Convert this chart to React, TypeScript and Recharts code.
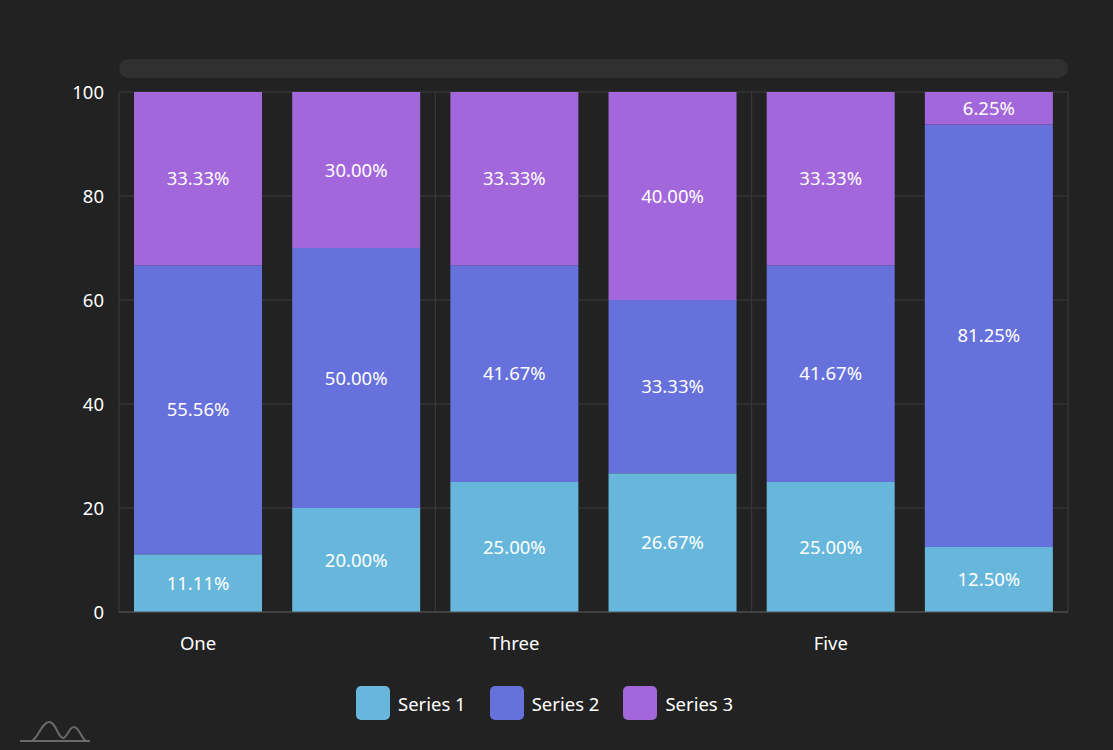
import { FC } from 'react';
import {
  BarChart,
  Bar,
  XAxis,
  YAxis,
  CartesianGrid,
  Legend,
  LabelList
} from 'recharts';

// Raw category values (each column is shown as 100%)
const categories = ['One', 'Two', 'Three', 'Four', 'Five', 'Six'];
const series1 = [1, 2, 3, 4, 3, 2];
const series2 = [5, 5, 5, 5, 5, 13];
const series3 = [3, 3, 4, 6, 4, 1];
const yTicks = [0, 20, 40, 60, 80, 100];

const SERIES = [
  { key: 's1', name: 'Series 1', color: '#67b7dc' },
  { key: 's2', name: 'Series 2', color: '#6771dc' },
  { key: 's3', name: 'Series 3', color: '#a367dc' }
];

const BG = '#222222';
const FONT = '"Noto Sans", "Open Sans", sans-serif';
const FS = 18.5;

// Convert raw values to percentages of each column total
const chartData = categories.map((name, i) => {
  const total = series1[i] + series2[i] + series3[i];
  return {
    name,
    s1: (series1[i] / total) * 100,
    s2: (series2[i] / total) * 100,
    s3: (series3[i] / total) * 100
  };
});

const formatPercent = (v: unknown) => `${Number(v).toFixed(2)}%`;

const LegendContent: FC = () => (
  <div style={{ display: 'flex', justifyContent: 'flex-start', paddingLeft: 356, gap: 24, fontFamily: FONT }}>
    {SERIES.map((s) => (
      <div key={s.key} style={{ display: 'flex', alignItems: 'center' }}>
        <div style={{ width: 34, height: 34, borderRadius: 5, background: s.color, marginRight: 8 }} />
        <span style={{ color: '#ffffff', fontSize: FS }}>{s.name}</span>
      </div>
    ))}
  </div>
);

const App: FC = () => {
  return (
    <div style={{ position: 'absolute', left: 0, top: 0, width: 1113, height: 750, background: BG, fontFamily: FONT }}>
      {/* scrollbar track */}
      <div
        style={{
          position: 'absolute',
          left: 119,
          top: 59,
          width: 949,
          height: 19,
          borderRadius: 10,
          background: '#303030'
        }}
      />
      <BarChart
        width={1113}
        height={750}
        data={chartData}
        margin={{ top: 92, right: 45, bottom: 30, left: 0 }}
        barCategoryGap="9.5%"
      >
        <CartesianGrid
          stroke="#3c3c3c"
          verticalCoordinatesGenerator={({ offset }: any) =>
            [0, 1, 2, 3].map((k) => offset.left + (offset.width * k) / 3)
          }
        />
        <XAxis
          dataKey="name"
          interval={1}
          height={74}
          tickLine={false}
          axisLine={{ stroke: '#555555' }}
          tickMargin={19}
          tick={{ fill: '#ffffff', fontSize: FS, fontFamily: FONT }}
        />
        <YAxis
          width={119}
          domain={[0, 100]}
          ticks={yTicks}
          tickLine={false}
          axisLine={false}
          tickSize={0}
          tickMargin={15}
          tick={{ fill: '#ffffff', fontSize: FS, fontFamily: FONT }}
        />
        <Legend verticalAlign="bottom" height={34} content={() => <LegendContent />} />
        {SERIES.map((s) => (
          <Bar key={s.key} dataKey={s.key} name={s.name} stackId="a" fill={s.color} isAnimationActive={false}>
            <LabelList
              dataKey={s.key}
              position="center"
              formatter={formatPercent}
              fill="#ffffff"
              style={{ fontSize: FS, fontFamily: FONT }}
            />
          </Bar>
        ))}
      </BarChart>
      {/* small logo bottom-left */}
      <svg style={{ position: 'absolute', left: 18, top: 718 }} width={75} height={26}>
        <path d="M2 23 H72" stroke="#6a6a6a" strokeWidth={2} fill="none" />
        <path
          d="M14 23 C20 20, 24 4, 31 4 C38 4, 40 20, 45 20 C49 20, 51 9, 56 9 C61 9, 63 20, 68 23"
          stroke="#6a6a6a"
          strokeWidth={2}
          fill="none"
        />
      </svg>
    </div>
  );
};

export default App;
